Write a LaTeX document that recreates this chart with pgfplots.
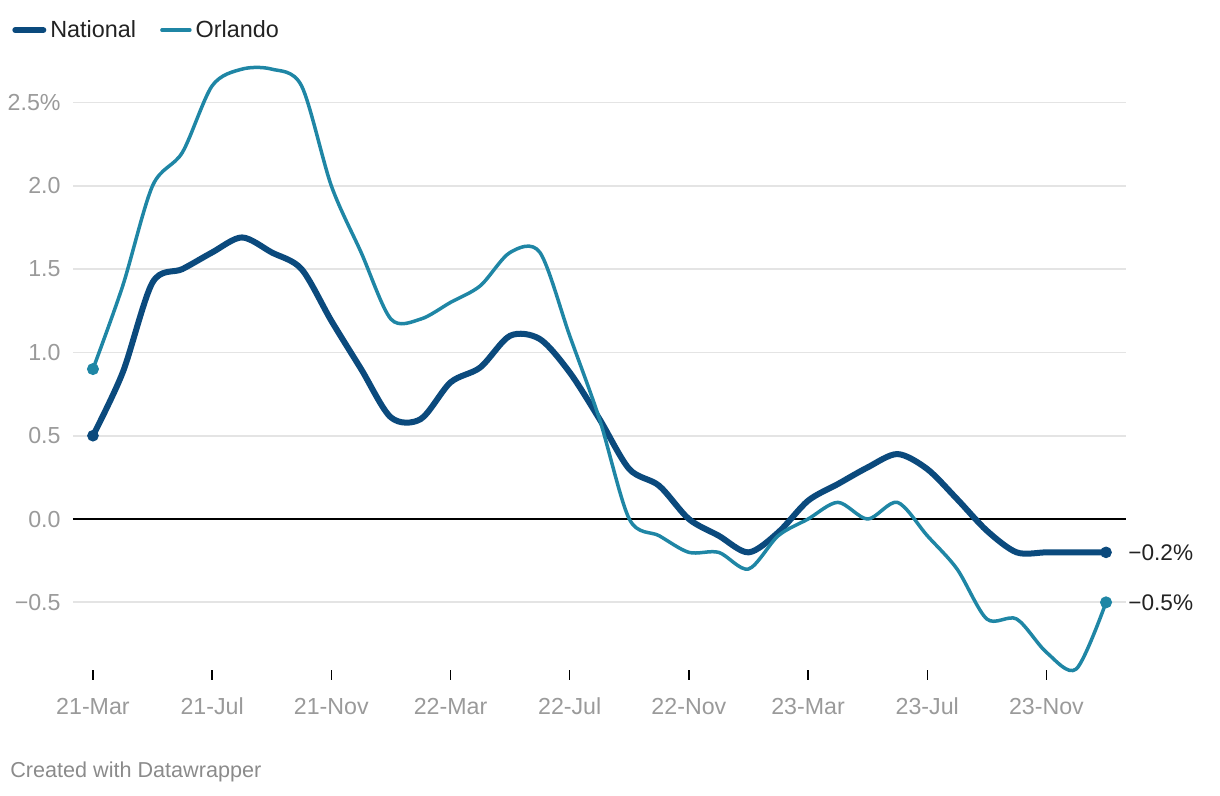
\documentclass[border=0pt]{standalone}
\usepackage{fontspec}
\setmainfont{Liberation Sans}
\usepackage{pgfplots}
\pgfplotsset{compat=1.18}

\definecolor{natl}{HTML}{0B4A7D}
\definecolor{orl}{HTML}{1F86A5}
\definecolor{gridgray}{HTML}{E4E4E4}
\definecolor{labgray}{HTML}{9A9A9A}
\definecolor{txt}{HTML}{222222}

% monthly values, month 0 = 21-Mar
\pgfplotstableread{
m  nat    orl
0  0.50   0.90
1  0.88   1.40
2  1.42   2.00
3  1.50   2.20
4  1.60   2.60
5  1.69   2.70
6  1.60   2.70
7  1.50   2.60
8  1.19   2.00
9  0.90   1.60
10 0.61   1.20
11 0.60   1.20
12 0.82   1.30
13 0.91   1.40
14 1.10   1.60
15 1.08   1.60
16 0.88   1.10
17 0.60   0.60
18 0.30   0.00
19 0.20  -0.10
20 0.00  -0.20
21 -0.10 -0.20
22 -0.20 -0.30
23 -0.08 -0.10
24 0.11   0.00
25 0.21   0.10
26 0.31   0.00
27 0.39   0.10
28 0.30  -0.10
29 0.12  -0.30
30 -0.07 -0.60
31 -0.20 -0.60
32 -0.20 -0.80
33 -0.20 -0.90
34 -0.20 -0.50
}\datatable

\begin{document}
\begin{tikzpicture}
\path[use as bounding box] (0,0) rectangle (610pt,398pt);
\begin{axis}[
    at={(36.5pt,60.5pt)}, anchor=south west,
    scale only axis, width=526.5pt, height=311.25pt,
    xmin=-0.67, xmax=34.67, ymin=-0.936, ymax=2.8,
    axis line style={draw=none},
    clip=false,
    font=\fontsize{11.6pt}{13pt}\selectfont,
    tick pos=left,
    ytick={-0.5,0,0.5,1,1.5,2,2.5},
    yticklabels={−0.5,0.0,0.5,1.0,1.5,2.0,2.5\%},
    ymajorgrids, grid style={gridgray, line width=0.9pt},
    ytick style={draw=none},
    yticklabel style={labgray, anchor=east, inner sep=0pt, xshift=-3.5pt},
    xtick={0,4,...,32},
    xticklabels={21-Mar,21-Jul,21-Nov,22-Mar,22-Jul,22-Nov,23-Mar,23-Jul,23-Nov},
    xtick style={black, line width=0.75pt},
    tick align=center, major tick length=5pt,
    xticklabel style={labgray, anchor=base, inner sep=0pt, yshift=-17.5pt},
    legend columns=2,
    legend style={draw=none, fill=none, inner sep=0pt, at={(-0.058,1.036)}, anchor=west,
        font=\fontsize{11.7pt}{13pt}\selectfont, text=txt,
        /tikz/every even column/.append style={column sep=10pt}},
    legend image code/.code={\draw[#1, line cap=round] (0pt,0pt) -- (14pt,0pt);},
]
\draw[black, line width=1pt] (axis cs:-0.67,0) -- (axis cs:34.67,0);
\addplot[natl, line width=3pt, smooth, line cap=round, line join=round] table[x=m, y=nat] {\datatable};
\addlegendentry{National}
\addplot[orl, line width=1.75pt, smooth, line cap=round, line join=round] table[x=m, y=orl] {\datatable};
\addlegendentry{Orlando}
\addplot[only marks, mark=*, mark size=2.7pt, natl, forget plot] coordinates {(0,0.5) (34,-0.2)};
\addplot[only marks, mark=*, mark size=2.8pt, orl, forget plot] coordinates {(0,0.9) (34,-0.5)};
\node[anchor=west, inner sep=0pt, xshift=11pt, text=txt, font=\fontsize{11.3pt}{12pt}\selectfont] at (axis cs:34,-0.2) {−0.2\%};
\node[anchor=west, inner sep=0pt, xshift=11pt, text=txt, font=\fontsize{11.3pt}{12pt}\selectfont] at (axis cs:34,-0.5) {−0.5\%};
\end{axis}
\node[anchor=west, inner sep=0pt, text=labgray!90!black, font=\fontsize{10.8pt}{12pt}\selectfont] at (5pt,12pt) {Created with Datawrapper};
\end{tikzpicture}
\end{document}
